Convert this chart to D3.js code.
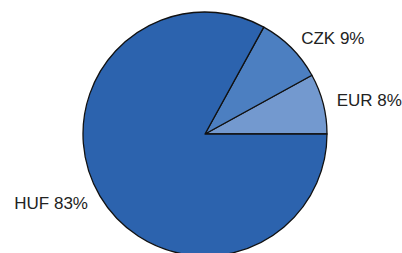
<!DOCTYPE html>
<html>
<head>
<meta charset="utf-8">
<script src="https://cdn.jsdelivr.net/npm/d3@7"></script>
<style>
  body { margin: 0; background: #fff; }
  text { font-family: "Liberation Sans", Arial, sans-serif; font-size: 17px; fill: #222; }
</style>
</head>
<body>
<div id="chart"></div>
<script>
// currency shares
var currencies = ["EUR", "CZK", "HUF"];
var shares = [8, 9, 83];
var colours = ["#7399cf", "#4c7fc1", "#2c63ae"];

function init() {
    var w = 402;
    var h = 253;
    var cx = 205, cy = 134;
    var radius = 122;
    var labelRadius = 136;

    var data = currencies.map(function(c, i) { return { name: c, value: shares[i] }; });

    // start at 3 o'clock and go anticlockwise
    var pie = d3.pie()
        .sort(null)
        .value(function(d) { return d.value; })
        .startAngle(Math.PI / 2)
        .endAngle(Math.PI / 2 - 2 * Math.PI);

    var arc = d3.arc().innerRadius(0).outerRadius(radius);
    var labelArc = d3.arc().innerRadius(labelRadius).outerRadius(labelRadius);

    var colour = d3.scaleOrdinal().domain(currencies).range(colours);

    var svg = d3.select("#chart")
        .append("svg")
        .attr("width", w)
        .attr("height", h);

    var g = svg.append("g")
        .attr("transform", "translate(" + cx + "," + cy + ")");

    var arcs = pie(data);

    g.selectAll("path")
        .data(arcs)
        .enter()
        .append("path")
        .attr("d", arc)
        .attr("fill", function(d) { return colour(d.data.name); })
        .attr("stroke", "#111")
        .attr("stroke-width", 1.3)
        .attr("stroke-linejoin", "round");

    g.selectAll("text")
        .data(arcs)
        .enter()
        .append("text")
        .attr("x", function(d) { return labelArc.centroid(d)[0]; })
        .attr("y", function(d) { return labelArc.centroid(d)[1]; })
        .attr("dy", "0.35em")
        .attr("text-anchor", function(d) {
            var mid = (d.startAngle + d.endAngle) / 2;
            return Math.sin(mid) >= 0 ? "start" : "end";
        })
        .text(function(d) { return d.data.name + " " + d.data.value + "%"; });
}

window.onload = init;
</script>
</body>
</html>
